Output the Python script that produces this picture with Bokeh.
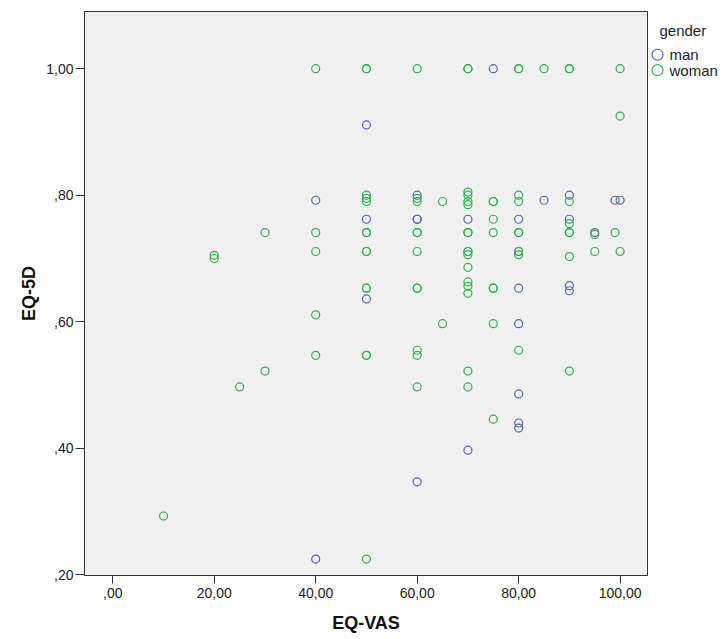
from bokeh.plotting import figure
from bokeh.layouts import row
from bokeh.models import Range1d, FixedTicker
from bokeh.core.properties import value
from bokeh.embed import file_html
from bokeh.resources import INLINE

# ---- data ----
man_vas = [50, 75, 40, 50, 50, 60, 60, 60, 60, 70, 70, 80, 80, 80, 80, 80, 80,
           85, 90, 90, 90, 90, 95, 99, 100, 40]
man_eq5d = [0.911, 1.000, 0.792, 0.762, 0.636, 0.800, 0.762, 0.762, 0.347, 0.762,
            0.397, 0.762, 0.653, 0.597, 0.486, 0.440, 0.432, 0.792, 0.800, 0.762,
            0.657, 0.649, 0.741, 0.792, 0.792, 0.225]

woman_vas = [40, 50, 50, 60, 70, 70, 80, 80, 85, 90, 90, 100,
             100,
             40, 40, 40, 40,
             30, 30, 20, 20, 25, 10,
             50, 50, 50, 50, 50, 50, 50, 50, 50, 50, 50, 50,
             60, 60, 60, 60, 60, 60, 60, 60, 60, 60,
             65, 65,
             70, 70, 70, 70, 70, 70, 70, 70, 70, 70, 70, 70, 70, 70, 70,
             75, 75, 75, 75, 75, 75, 75, 75,
             80, 80, 80, 80, 80, 80, 80, 80,
             90, 90, 90, 90, 90, 90,
             95, 95, 99, 100]
woman_eq5d = [1.0, 1.0, 1.0, 1.0, 1.0, 1.0, 1.0, 1.0, 1.0, 1.0, 1.0, 1.0,
              0.925,
              0.741, 0.711, 0.611, 0.547,
              0.741, 0.522, 0.705, 0.700, 0.497, 0.293,
              0.800, 0.790, 0.795, 0.741, 0.741, 0.711, 0.711, 0.653, 0.653, 0.547, 0.547, 0.225,
              0.790, 0.795, 0.741, 0.741, 0.711, 0.653, 0.653, 0.555, 0.547, 0.497,
              0.790, 0.597,
              0.805, 0.800, 0.790, 0.785, 0.741, 0.741, 0.711, 0.711, 0.706, 0.686,
              0.663, 0.656, 0.645, 0.522, 0.497,
              0.790, 0.790, 0.762, 0.741, 0.653, 0.653, 0.597, 0.446,
              0.800, 0.790, 0.741, 0.741, 0.711, 0.711, 0.706, 0.555,
              0.790, 0.755, 0.741, 0.741, 0.703, 0.522,
              0.738, 0.711, 0.741, 0.711]

x_ticks = [0, 20, 40, 60, 80, 100]
x_tick_labels = [",00", "20,00", "40,00", "60,00", "80,00", "100,00"]
y_ticks = [0.2, 0.4, 0.6, 0.8, 1.0]
y_tick_labels = [",20", ",40", ",60", ",80", "1,00"]

series_names = ["man", "woman"]
legend_title = "gender"

BLUE = "#5064B8"
GREEN = "#2BB34C"
FONT = "Liberation Sans"
COLORS = [BLUE, GREEN]

p = figure(width=648, height=639, output_backend="svg", toolbar_location=None,
           x_range=Range1d(-5.58, 105.4), y_range=Range1d(0.199, 1.0903),
           min_border_left=84, min_border_right=1, min_border_top=11,
           min_border_bottom=64)
p.background_fill_color = "#F0F0F0"
p.border_fill_color = "white"
p.outline_line_color = "#333333"
p.outline_line_width = 1
p.grid.visible = False

p.scatter(man_vas, man_eq5d, marker="circle", size=8,
          fill_color=None, line_color=BLUE, line_width=1.2)
p.scatter(woman_vas, woman_eq5d, marker="circle", size=8,
          fill_color=None, line_color=GREEN, line_width=1.2)

for ax, ticks, labels in ((p.xaxis[0], x_ticks, x_tick_labels),
                          (p.yaxis[0], y_ticks, y_tick_labels)):
    ax.ticker = FixedTicker(ticks=ticks)
    ax.major_label_overrides = dict(zip(ticks, labels))
    ax.minor_tick_line_color = None
    ax.major_tick_in = 0
    ax.axis_line_color = "#333333"
    ax.major_tick_line_color = "#333333"
    ax.major_label_text_font = FONT
    ax.major_label_text_font_size = "14px"
    ax.major_label_text_color = "#222222"
    ax.axis_label_text_font = FONT
    ax.axis_label_text_font_size = "18px"
    ax.axis_label_text_font_style = "bold"
    ax.axis_label_text_color = "#111111"

p.xaxis.axis_label = "EQ-VAS"
p.xaxis.major_tick_out = 8
p.xaxis.major_label_standoff = 4
p.xaxis.axis_label_standoff = 12
p.yaxis.axis_label = "EQ-5D"
p.yaxis.major_tick_out = 9
p.yaxis.major_label_standoff = 2
p.yaxis.axis_label_standoff = 4

# ---- legend panel (screen-like pixel coordinates) ----
lg = figure(width=80, height=639, output_backend="svg", toolbar_location=None,
            x_range=Range1d(0, 80), y_range=Range1d(639, 0),
            x_axis_type=None, y_axis_type=None,
            min_border_left=0, min_border_right=0, min_border_top=0,
            min_border_bottom=0)
lg.outline_line_color = None
lg.grid.visible = False
lg.background_fill_color = "white"
lg.border_fill_color = "white"

item_y = [49, 66.5]
lg.scatter([9, 9], item_y, marker="circle", size=11, fill_color=None,
           line_color=COLORS, line_width=1.2)
lg.text([21, 21], item_y, text=series_names, text_font=value(FONT),
        text_font_size="15px", text_color="#222222", text_baseline="middle",
        text_align="left")
lg.text([11], [21], text=[legend_title], text_font=value(FONT),
        text_font_size="15px", text_color="#222222", text_baseline="middle",
        text_align="left")

layout = row(p, lg, spacing=0)
open("out.html", "w").write(file_html(layout, INLINE))
